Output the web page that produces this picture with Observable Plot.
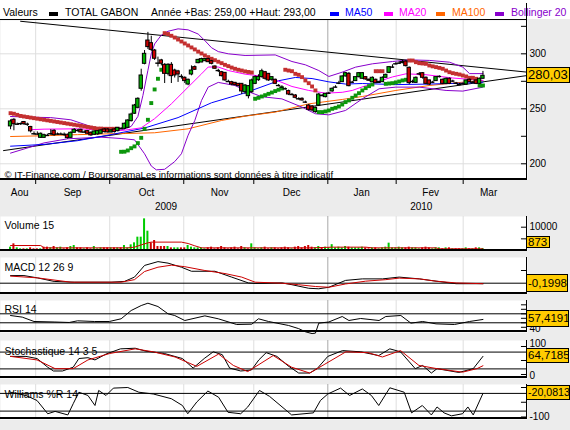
<!DOCTYPE html>
<html><head><meta charset="utf-8">
<script src="https://cdn.jsdelivr.net/npm/d3@7"></script>
<script src="https://cdn.jsdelivr.net/npm/@observablehq/plot@0.6"></script>
<style>
html,body{margin:0;padding:0;background:#ececec;}
#wrap{position:relative;width:570px;height:430px;background:#ececec;overflow:hidden;font-family:"Liberation Sans",Arial,sans-serif;}
#header{position:absolute;left:0;top:0;width:570px;height:19px;background:#fff;font-size:10.5px;}
#header span{position:absolute;top:6px;line-height:12px;white-space:nowrap;color:#000;}
#header i{position:absolute;top:12px;width:9px;height:4px;}
.bl{position:absolute;background:#000;}
</style></head><body>
<div id="wrap">
 <div id="header">
  <span style="left:3px">Valeurs</span>
  <i style="left:49px;background:#000"></i>
  <span style="left:65px">TOTAL GABON</span>
  <span style="left:151px">Année +Bas: 259,00 +Haut: 293,00</span>
  <i style="left:330px;background:#0000ff"></i><span style="left:345px;color:#0000ff">MA50</span>
  <i style="left:384px;background:#ff00ff"></i><span style="left:399px;color:#ff00ff">MA20</span>
  <i style="left:436px;background:#ff6600"></i><span style="left:452px;color:#ff6600">MA100</span>
  <i style="left:495px;background:#8800cc"></i><span style="left:511px;color:#8800cc">Bollinger 20</span>
 </div>
</div>
<script>
// ---------- DATA ----------
const open = [234,240,236,236,238,236,233.5,227.5,227,223.6,
 223.6,226,227,230,227,227,226.7,226.4,223.6,228.2,
 230.3,230.9,228.8,229.7,228.2,226.4,226.7,227.3,231.2,231.2,
 228.5,231.2,229.7,231.5,231.8,232.7,238.8,245.5,250.9,268.2,
 290.9,312.1,309.7,303,291.5,294,290,281.8,290,284.8,
 284,279.4,278.2,272.1,281.2,287.9,291.5,292.1,293.3,295.2,
 293.3,288.5,284.8,283.3,282.7,274.8,274.2,273.6,272.7,272.7,
 265.1,261.5,265.1,272.7,276,278.8,283.3,281.8,276.4,276.4,
 271.2,269.7,268.2,266.1,263,262.1,259.1,259.1,256.1,253,
 252.1,247,253,262.1,260.6,264.2,265.8,269.7,273.3,274.2,
 279.4,281.8,274.2,275.2,278.8,277.3,278.8,276.5,274.2,276.4,
 273.5,274.2,278.2,282.7,287.9,290.9,291.5,291.5,293,287.3,
 274.8,273.6,281.8,282.4,278.2,275.8,274.2,275.2,279.4,276.4,
 272.7,277.3,275.2,273.3,272.1,272.7,272.1,276.4,274.2,275.8,
 272.7,277.3];
const close = [238.5,236,236,236.5,236,236,229.5,227.3,227,227.3,
 226,225.8,227.3,226,227,227,226.7,223.3,228.2,230.9,
 230.3,228.5,228.8,227.3,225.8,229.4,229.7,230.3,228.8,228.5,
 230.3,228.8,232.7,232,236.4,239.4,244.8,253,259.1,280.3,
 300,306.1,303.6,295.5,291.5,291,281.8,290,279.7,280.3,
 281.2,279.4,275.2,276.4,284.8,285.5,294.5,295.2,295.2,292.4,
 290.9,286.4,284.8,279.7,275.8,274.8,272.1,271.5,270.6,265.8,
 271.2,270.6,275.8,278.8,279,284.2,277.3,275.8,278.8,272.7,
 271.2,269.7,268.2,263,263,260,259.1,257.6,256.1,249.1,
 248.5,250.9,263,262.1,263.6,264.2,268.2,269.7,273.3,279.4,
 282.4,270.6,274.2,278.8,282.4,282.4,276.7,275.5,278.2,273.3,
 274.5,278.2,280.9,287.9,287.9,290.9,291.5,292.5,288.8,273.3,
 274.8,278.2,281.8,278.2,272.7,272.1,274.2,278.8,279.4,272.7,
 277.3,272.7,275.2,273.3,272.1,272.7,275.8,274.2,274.2,272.7,
 277.3,280.03];
const high = [240,241,237,237,238.5,237,234,229,229,228,
 227,227,231,231,228,228,228,227,229,232,
 231,231.5,230,230,229,230,230,231,232,232,
 231,232,233,233,237,240,246,254,260,286,
 303,319.5,316,304,297,295,291,291,292,286,
 285,281,279,277,289,289,295,296,296,296,
 294,289,286,284,283,276,275,274,273,273,
 272,271,277,280,281,286,284,282,279,277,
 272,271,269,267,264,263,260,260,257,254,
 253,251.5,264,263,264,265,269,271,275,280,
 283,283,275,279,283,283,279,277,279,277,
 275,279,281.5,288.5,290,292,293,294,294,288,
 276,279,283,283,279,276,275,279,280,277,
 278,278,276,274,273,273.5,276,277,275,276,
 278,284];
const low = [231,230,235,235,235,234,228,226,226,223,
 223,225,226,225,226,226,225,222.5,223,228,
 229,228,228,227,225,226,226,227,228,228,
 228,228,229,231,231,232,238,245,250,266,
 290,304,302,294,288,289,273,280,273,278,
 274,277,273,271,280,285,291,292,293,292,
 290,286,283,279,275,274,271,271,270,263,
 263,259,264,272,275,278,276,275,275,272,
 270,269,267,262,262,259,258,257,255,248,
 247.5,246,252,261,260,263,265,269,272,274,
 279,270,273,275,278,277,276,275,274,273,
 273,274,278,282,287,290,290.5,291,288,272,
 273,273,280,277,272,271,273,275,278,272,
 272,272,274,272,271,272,271.5,274,273.5,272,
 272,277];
const volume = [1430,2860,1140,715,715,715,1140,715,715,715,
 1430,1430,1140,1716,1140,1430,715,1140,1716,2145,
 1140,1140,715,1140,715,1716,715,1140,1140,1140,
 1140,1140,1140,1140,2145,1140,2430,3290,5720,5720,
 13580,8290,3290,4290,1716,1716,1716,1716,1140,1140,
 1140,1140,1140,2145,1430,1140,1140,1140,715,1140,
 1430,715,1140,1716,1140,715,1140,1430,715,1716,
 1140,715,2860,1140,715,1140,1430,715,1140,1140,
 715,1140,1430,1140,715,1430,1716,1140,1716,2145,
 1430,1140,1716,1140,1430,1140,2500,1140,1430,1140,
 1716,1430,1140,1140,1140,1430,1140,715,1140,1140,
 715,1140,1430,3150,1140,1140,1430,1140,1140,1430,
 1140,1140,715,1140,1430,1140,715,1140,1140,715,
 1140,1140,715,715,715,715,1140,715,715,1140,
 1140,873];
const sar = [246,245.5,244.5,243.5,243,242.5,242,241.5,241,240.5,
 240,239.5,239,238.5,238,237.5,237,236.5,236,235.5,
 235,234.5,234,233.5,233,232.5,232,232,231.8,231.8,
 231.8,231.8,231.8,
 210.9,211,212.1,214.2,215.8,218.8,223.6,231.8,240,255.2,267.6,277.3,285.5,
 318.8,318,316.4,314.8,313,311.2,309.4,307.6,305.8,304,302,300.3,298.5,297,
 295.5,294.2,292.8,291.5,290,288.8,287.5,286.4,285.5,284.8,284,283.5,283,
 259.1,260,261.2,262.4,263.6,264.8,266.1,267.3,268.5,
 285.5,284.8,284.2,281.8,280.9,278.8,275.8,273.3,270.3,266.7,
 247,247,247.6,248.5,250,250.9,252.1,253.9,256.1,257.6,260,262.1,264.2,266.7,268.8,270.6,272.1,
 284.2,284.2,284.2,
 272.7,273,273.3,274,274.8,275.8,276.4,
 293.9,293.9,292.4,291.5,291.2,290.9,289.4,288.6,287.9,287.2,286.4,284.8,283.3,282.4,281.8,281.2,280.3,279.4,278.2,278.2,277.3,
 271.2,271.2];
const sarSegments = [[0,32,"down"],[33,45,"up"],[46,72,"down"],[73,81,"up"],[82,91,"down"],
 [92,108,"up"],[109,111,"down"],[112,118,"up"],[119,139,"down"],[140,141,"up"]];

const ma50 = [[0,216],[10,217.6],[20,221],[30,226.5],[40,232.5],[50,242],[60,255.5],[70,264.5],[80,275.5],[85,278.5],[90,277.5],[95,274.5],[100,272.5],[105,273],[115,272],[125,272.5],[135,273.3],[141,274.2]];
const ma20 = [[6,231],[10,231.5],[20,231.8],[30,230.5],[34,230.5],[39,232.7],[43,241],[48,254.5],[53,269.7],[57,281.8],[59,288],[62,288],[65,284.8],[70,281.5],[74,280],[79,276.4],[84,270.3],[89,266.7],[94,264.2],[99,265],[102,266.7],[106,271],[110,275],[114,279],[118,281.8],[124,281],[132,278],[141,275.8]];
const ma100 = [[0,224.8],[10,225.5],[20,226.5],[30,227.3],[34,227.5],[43,228.2],[53,231.8],[63,239.4],[70,243.3],[79,247],[89,254.5],[99,258.5],[105,261.2],[115,266.7],[125,271.2],[135,274.2],[141,275.8]];
const bbUpper = [[0,243],[6,242.4],[12,242],[18,240],[24,233.9],[27,231.8],[33,230.5],[36,234],[38,243],[39.5,262],[41,285],[42,300],[43,309],[45,317],[47,320.5],[50,322.7],[53,321.8],[56,318],[58,312],[60,305.5],[62,302],[65,300],[70,298.5],[79,299],[84,293],[88,290],[92,284.8],[95,279.4],[99,283.3],[103,287.9],[108,290.9],[114,293],[119,294.5],[125,294],[131,292.4],[135,287.9],[137,282],[141,282]];
const bbLower = [[0,209.7],[10,219],[17,222.7],[27,224.2],[33,223],[37,221.8],[40,209.1],[42,198],[43.5,194.5],[46,195],[49,202],[51,209.1],[53,226],[55,239.4],[57,257.6],[59,269.7],[62,274],[67,271.2],[70,266.7],[75,261],[81,259],[87,251.5],[91,245.5],[95,244.5],[100,248.5],[105,259.1],[110,268.2],[115,269.7],[122,269.7],[130,266.7],[135,266.1],[141,269.7]];
const trendA = [[3,329.6],[154.3,283.3]];
const trendB = [[-2.1,212],[154.3,280.3]];

const volMA15 = [[0,2145],[9,2145],[10,1140],[35,1140],[37,1430],[39,2430],[41,3290],[42,3600],[51,3600],[53,3000],[55,2000],[57,1140],[90,1140],[96,1430],[106,1430],[108,1140],[127,1140],[128,715],[141,715]];
const macd = [[0,3.0],[4,3.0],[8,2.1],[13,0.7],[19,0.4],[30,0.4],[34,0.7],[37,2.4],[40,7.0],[44,8.5],[47,7.9],[51,6.3],[54,4.7],[61,4.7],[66,2.4],[71,0.1],[73,-0.1],[81,0.1],[84,-0.6],[89,-2.0],[92,-2.2],[95,-1.6],[100,1.1],[105,1.7],[111,1.7],[116,2.4],[122,1.7],[127,0.8],[133,-0.2],[141,-0.1998]];
const macdSignal = [[0,2.8],[8,2.1],[18,0.4],[33,0.4],[37,1.4],[40,4.6],[44,6.3],[48,7.1],[52,6.5],[58,5.0],[64,3.8],[69,2.4],[73,0.4],[81,0],[86,-0.6],[91,-1.3],[95,-1.6],[100,-0.3],[106,0.8],[112,1.4],[116,2.0],[122,1.7],[127,0.8],[133,0.1],[141,-0.2]];
const rsi = [[0,66.2],[3.5,62.6],[7,52.9],[13,51.8],[17.5,50.7],[20,54.4],[25,52.9],[29.5,52.9],[33,58.9],[36,77.3],[39,88.4],[41,93.6],[44,86.2],[47,70],[49,66.2],[52,55.1],[58,65.4],[62,58.9],[67.5,46.2],[72,46.9],[74,58.9],[77,52.9],[83,44],[86,37],[88,30],[90,26],[91,27],[92,49.2],[95,51.8],[99,64],[101,55.1],[104.5,59.6],[110,55.1],[112,64],[116.5,66.2],[119.5,49.2],[123,52.9],[127,47.6],[132.5,46.2],[137,52.9],[141,57.4191]];
const stochK = [[0,64.6],[4.6,64.6],[7.9,57],[11.1,26],[12.8,12.5],[15.5,12.5],[18.7,26],[20.4,57],[23.1,60],[25.2,52],[28.5,73],[32.8,91.6],[37.2,93.8],[40.4,83.3],[45.9,75],[51.3,57],[54.5,22.9],[57.8,57],[60.5,81],[63.2,70.8],[65.4,22.9],[68.7,12.5],[71.9,16],[74.1,52],[76.3,78],[79.5,64.6],[82.8,31.2],[86,5.2],[89.3,5.2],[91.5,20.8],[94.7,64.6],[99.1,85.4],[104.5,81],[109.9,67.7],[113.2,91.6],[116.4,81],[120.8,20.8],[123,32.3],[125.6,5.2],[127.3,20.8],[133.8,7.3],[138.1,20.8],[141,64.7185]];
const stochD = [[0,64.6],[7.9,52],[13.3,20.8],[18.7,20.8],[23.1,52],[29.6,75],[37.2,91.6],[42.6,81],[49.1,62.5],[55.6,29],[62.1,73],[66.5,32.3],[70.8,10.4],[78.4,67.7],[83.9,26],[89.3,5.2],[93.6,35.4],[100.1,81],[106.7,78],[111,62.5],[116.4,85.4],[121.9,32.3],[127.3,20.8],[134.9,8.3],[139.2,20.8],[141,31.2]];
const williams = [[0,-16],[4.6,-27],[7.9,-44],[11.1,-89],[13.3,-81],[17.1,-93],[18.7,-55],[20.4,-16],[23.1,-27],[25.2,-61],[26.3,-10],[28.5,-27],[30.7,-2],[35,0],[38.3,-16],[42.6,-22],[48,-38],[51.3,-61],[52.9,-89],[55.6,-49],[58.9,-12],[62.1,-33],[64.9,-84],[68.7,-89],[70.8,-66],[74.3,-10],[77.3,-30],[83.9,-93],[90.4,-86],[92.5,-44],[94.7,-22],[98.5,-2],[101.2,-27],[105,-5],[107.7,-27],[109.9,-61],[113.2,-1],[117.5,-16],[119.7,-86],[122.9,-61],[125.6,-93],[127.3,-66],[129.4,-86],[131.6,-96],[134.9,-89],[136.5,-66],[138.1,-93],[141,-20.0813]];

const monthBounds = [7.5, 29.6, 51.7, 72.6, 94.7, 115.1, 135.1];
const yearBound = 94.7;
const monthNames = ["Aou","Sep","Oct","Nov","Dec","Jan","Fev","Mar"];
const monthLabelPos = [2.7, 18.5, 40.6, 62.4, 83.9, 104.8, 125.4, 142.7];
const yearNames = ["2009","2010"];
const yearLabelPos = [46.4, 122.6];
const priceTicks = [200,225,250,275,300,325];
const priceLabels = [200,250,300];
const copyright = "© IT-Finance.com / BoursoramaLes informations sont données à titre indicatif";

// ---------- RENDER ----------
const wrap = document.getElementById("wrap");
const FONT = '"Liberation Sans", Arial, sans-serif';
const XDOM = [-3, 154.3];
const TICKLEN = 1.8;
const GRID = "#dedede", GRIDDARK = "#a8a8a8";
const GREEN = "#00b400", RED = "#cc0000";
const SARRED = "#c43030", SARGREEN = "#0c960c";
const fmt = v => String(v).replace(".", ",");

const trendAt = i => sarSegments.find(([a, b]) => i >= a && i <= b)[2];
const candles = open.map((o, i) => ({i, o, c: close[i], h: high[i], l: low[i], v: volume[i], s: sar[i],
  pc: i ? close[i - 1] : o}));
const bodies = candles.filter(d => Math.abs(d.c - d.o) >= 0.6);
const dojis = candles.filter(d => Math.abs(d.c - d.o) < 0.6);

const vgrid = () => Plot.ruleX(monthBounds, {x: d => d, stroke: d => d === yearBound ? GRIDDARK : GRID});
const rTicks = vals => Plot.ruleY(vals, {y: d => d, x1: XDOM[1] - TICKLEN, x2: XDOM[1], stroke: "black"});
const rLabels = (vals, dy = 0) => Plot.text(vals, {y: d => d, text: d => fmt(d), frameAnchor: "right", textAnchor: "start", dx: 2, dy, fontSize: 10, fill: "black"});
const pLabel = (txt, dy) => Plot.text([txt], {frameAnchor: "top-left", textAnchor: "start", lineAnchor: "middle", dx: 4, dy, fontSize: 10.5, fill: "black"});
const L = (data, stroke) => Plot.line(data, {x: d => d[0], y: d => d[1], stroke, strokeWidth: 1});

function mk(top, height, ydom, marks, overflow = "hidden") {
  const p = Plot.plot({
    width: 570, height, marginLeft: 0, marginRight: 43, marginTop: 0, marginBottom: 0,
    x: {domain: XDOM, axis: null},
    y: {domain: ydom, axis: null},
    style: {background: "transparent", fontFamily: FONT, fontSize: "10px", color: "black", overflow},
    marks
  });
  p.style.position = "absolute"; p.style.left = "0px"; p.style.top = top + "px";
  wrap.appendChild(p);
  return p;
}
function border(top, height) {
  const b = document.createElement("div"); b.className = "bl";
  Object.assign(b.style, {left: "0px", top: (top + height - 2) + "px", width: "527px", height: "2px"});
  const r = document.createElement("div"); r.className = "bl";
  Object.assign(r.style, {left: "526px", top: top + "px", width: "1px", height: height + "px"});
  wrap.appendChild(b); wrap.appendChild(r);
}
function box(plot, top, value, text, w, h, fs, maxBottom) {
  const sy = plot.scale("y");
  const yy = sy.apply ? sy.apply(value) : d3.scaleLinear(sy.domain, sy.range)(value);
  let t = top + yy - h / 2;
  if (maxBottom != null && t + h > maxBottom) t = maxBottom - h;
  const d = document.createElement("div");
  Object.assign(d.style, {position: "absolute", left: "526px", top: t + "px", width: w + "px", height: h + "px",
    background: "#ffcc00", border: "1px solid #000", boxSizing: "border-box", fontSize: fs + "px",
    lineHeight: (h - 2) + "px", paddingLeft: "1px", whiteSpace: "nowrap", overflow: "hidden", fontFamily: FONT, color: "#000"});
  d.textContent = text;
  wrap.appendChild(d);
}

// header lines
(() => {
  const a = document.createElement("div"); a.className = "bl";
  Object.assign(a.style, {left: "0px", top: "19px", width: "527px", height: "1px"});
  const b = document.createElement("div"); b.className = "bl";
  Object.assign(b.style, {left: "526px", top: "3px", width: "1px", height: "17px"});
  wrap.appendChild(a); wrap.appendChild(b);
})();

// main price panel
const mainTop = 20, mainH = 160;
const pMain = mk(mainTop, mainH, [184.8, 330.3], [
  Plot.frame({fill: "white", stroke: "none"}),
  Plot.ruleY(priceLabels, {y: d => d, stroke: GRID}),
  vgrid(),
  Plot.text([copyright], {frameAnchor: "bottom-left", textAnchor: "start", lineAnchor: "middle", dx: 4, dy: -6, fontSize: 9.6, fill: "black"}),
  L(trendA, "black"), L(trendB, "black"),
  L(ma100, "#ff6600"),
  L(bbUpper, "#8800cc"), L(bbLower, "#8800cc"),
  L(ma50, "#0000ff"), L(ma20, "#ff00ff"),
  Plot.dot(candles, {x: "i", y: "s", symbol: "square", r: 2.2, fill: d => trendAt(d.i) === "down" ? SARRED : SARGREEN, stroke: "none"}),
  Plot.ruleX(candles, {x: "i", y1: "l", y2: "h", stroke: "black", strokeWidth: 1}),
  Plot.rect(bodies, {x1: d => d.i - 0.5, x2: d => d.i + 0.5, y1: "o", y2: "c",
    fill: d => d.c > d.o ? GREEN : RED, stroke: "black", strokeWidth: 1}),
  Plot.ruleY(dojis, {y: "c", x1: d => d.i - 0.65, x2: d => d.i + 0.65, stroke: "black", strokeWidth: 1.4}),
  rTicks(priceTicks), rLabels(priceLabels)
]);
border(mainTop, mainH);

// x axis band
const axisP = Plot.plot({
  width: 570, height: 36, marginLeft: 0, marginRight: 43, marginTop: 0, marginBottom: 0,
  x: {domain: XDOM, axis: null},
  style: {background: "transparent", fontFamily: FONT, fontSize: "10px", color: "black"},
  marks: [
    Plot.tickX(monthBounds, {x: d => d, insetBottom: 32, stroke: "black"}),
    Plot.text(monthNames, {x: (d, i) => monthLabelPos[i], frameAnchor: "top", lineAnchor: "middle", dy: 12, fontSize: 10, fill: "black"}),
    Plot.text(yearNames, {x: (d, i) => yearLabelPos[i], frameAnchor: "top", lineAnchor: "middle", dy: 26, fontSize: 10, fill: "black"})
  ]
});
axisP.style.position = "absolute"; axisP.style.left = "0px"; axisP.style.top = "180px";
wrap.appendChild(axisP);

// volume
const volTop = 216, volH = 35;
const pVol = mk(volTop, volH, [-429, 14592], [
  Plot.frame({fill: "white", stroke: "none"}),
  vgrid(),
  pLabel("Volume 15", 9),
  Plot.rect(candles, {x1: d => d.i - 0.3, x2: d => d.i + 0.3, y1: 0, y2: "v", fill: d => d.c >= d.pc ? "#00cc00" : RED}),
  L(volMA15, RED),
  rTicks([5000, 10000]), rLabels([10000])
]);
border(volTop, volH);

// MACD
const macdTop = 257, macdH = 37;
const pMacd = mk(macdTop, macdH, [-4.45, 10.12], [
  Plot.frame({fill: "white", stroke: "none"}),
  vgrid(),
  pLabel("MACD 12 26 9", 10),
  Plot.ruleY([0], {stroke: "black"}),
  L(macd, "black"), L(macdSignal, RED),
  rTicks([5])
]);
border(macdTop, macdH);

// RSI
const rsiTop = 300, rsiH = 32;
const pRsi = mk(rsiTop, rsiH, [28.4, 99.6], [
  Plot.frame({fill: "white", stroke: "none"}),
  vgrid(),
  pLabel("RSI 14", 9),
  Plot.ruleY([70, 50], {stroke: "black"}),
  L(rsi, "black"),
  rTicks([40, 50, 60, 70, 80, 90]), rLabels([40], 2)
], "visible");
border(rsiTop, rsiH);

// Stochastic
const stTop = 340, stH = 38;
const pSt = mk(stTop, stH, [-14.3, 121.4], [
  Plot.frame({fill: "white", stroke: "none"}),
  vgrid(),
  pLabel("Stochastique 14 3 5", 11.5),
  Plot.ruleY([80, 20], {stroke: "black"}),
  L(stochK, "black"), L(stochD, RED),
  rTicks([0, 50, 100]), rLabels([100], -3), rLabels([0], 1)
], "visible");
border(stTop, stH);

// Williams
const wTop = 384, wH = 35;
const pW = mk(wTop, wH, [-108.5, 10.2], [
  Plot.frame({fill: "white", stroke: "none"}),
  vgrid(),
  pLabel("Williams %R 14", 10),
  Plot.ruleY([-20, -80], {stroke: "black"}),
  L(williams, "black"),
  rTicks([0, -50, -100]), rLabels([-100])
], "visible");
border(wTop, wH);

// value boxes
box(pMain, mainTop, close[close.length - 1], "280,03", 44, 16, 13);
box(pVol, volTop, volume[volume.length - 1], "873", 24, 12, 11.5, 247.5);
box(pMacd, macdTop, macd[macd.length - 1][1], "-0,1998", 42, 18, 11.5);
box(pRsi, rsiTop, rsi[rsi.length - 1][1], "57,4191", 43, 17, 11.5);
box(pSt, stTop, stochK[stochK.length - 1][1], "64,7185", 43, 15, 11.5);
box(pW, wTop, williams[williams.length - 1][1], "-20,0813", 44, 15, 10.6);
</script>
</body></html>
